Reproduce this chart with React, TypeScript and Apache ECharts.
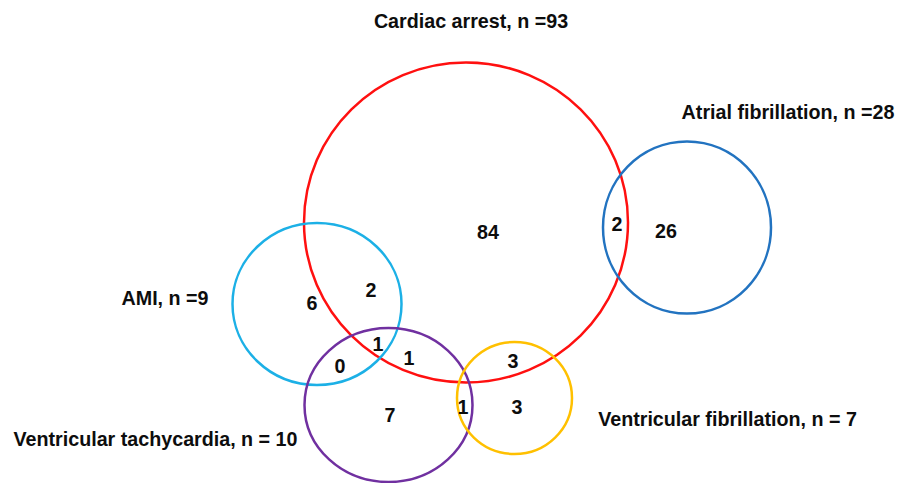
import React, { useEffect, useRef } from "react";
import * as echarts from "echarts";

// Venn sets: name, size, circle geometry in data units (x 0..900, y 0..483 downward)
const setNames = ["Cardiac arrest", "Atrial fibrillation", "AMI", "Ventricular tachycardia", "Ventricular fibrillation"];
const setLabels = ["Cardiac arrest, n =93", "Atrial fibrillation, n =28", "AMI, n =9", "Ventricular tachycardia, n = 10", "Ventricular fibrillation, n = 7"];
const setCircles: number[][] = [
  [466, 222.5, 162, 160],
  [687, 227.5, 84, 86],
  [317, 304, 84.5, 81],
  [388.5, 405, 84, 77],
  [514.5, 398, 57.5, 56],
];
const setColors = ["#ff1010", "#2273c0", "#1cb0e6", "#7030a0", "#ffc000"];
const setLabelPos: number[][] = [
  [471, 21],
  [788, 112],
  [165, 298],
  [155.5, 439],
  [727.5, 419],
];

// Region counts and their label anchor points
const regionCounts = [84, 2, 26, 6, 2, 1, 0, 1, 7, 1, 3, 3];
const regionPos: number[][] = [
  [488, 232],
  [617, 224],
  [666, 231],
  [312, 303],
  [371, 290],
  [378, 344],
  [340, 366],
  [409, 358],
  [390, 415],
  [463, 407],
  [513, 361],
  [517, 407],
];

const FONT = "'Liberation Sans', Arial, Helvetica, sans-serif";

export default function App() {
  const ref = useRef<HTMLDivElement>(null);
  useEffect(() => {
    if (!ref.current) return;
    const chart = echarts.init(ref.current, null, { renderer: "svg" });
    const makeText = (texts: string[]) => (params: any, api: any) => {
      const c = api.coord([api.value(0), api.value(1)]);
      return {
        type: "text",
        x: c[0],
        y: c[1],
        style: {
          text: texts[params.dataIndex],
          fontFamily: FONT,
          fontWeight: "bold",
          fontSize: 19.7,
          fill: "#0d0d0d",
          align: "center",
          verticalAlign: "middle",
        },
      };
    };
    chart.setOption({
      animation: false,
      backgroundColor: "#ffffff",
      grid: { left: 0, right: 0, top: 0, bottom: 0 },
      xAxis: { type: "value", min: 0, max: 900, show: false },
      yAxis: { type: "value", min: 0, max: 483, inverse: true, show: false },
      series: [
        {
          type: "custom",
          name: "sets",
          data: setCircles.map((c, i) => ({ name: setNames[i], value: c })),
          encode: { x: 0, y: 1 },
          clip: false,
          renderItem: (params: any, api: any) => {
            const c = api.coord([api.value(0), api.value(1)]);
            const s = api.size([api.value(2), api.value(3)]);
            return {
              type: "ellipse",
              shape: { cx: c[0], cy: c[1], rx: s[0], ry: s[1] },
              style: { fill: "none", stroke: setColors[params.dataIndex], lineWidth: 2.5 },
            };
          },
        },
        {
          type: "custom",
          name: "setLabels",
          data: setLabelPos,
          encode: { x: 0, y: 1 },
          clip: false,
          renderItem: makeText(setLabels),
        },
        {
          type: "custom",
          name: "counts",
          data: regionPos,
          encode: { x: 0, y: 1 },
          clip: false,
          renderItem: makeText(regionCounts.map(String)),
        },
      ],
    });
    return () => chart.dispose();
  }, []);
  return (
    <div
      ref={ref}
      style={{ position: "absolute", left: 0, top: 0, width: 900, height: 483, background: "#fff" }}
    />
  );
}
